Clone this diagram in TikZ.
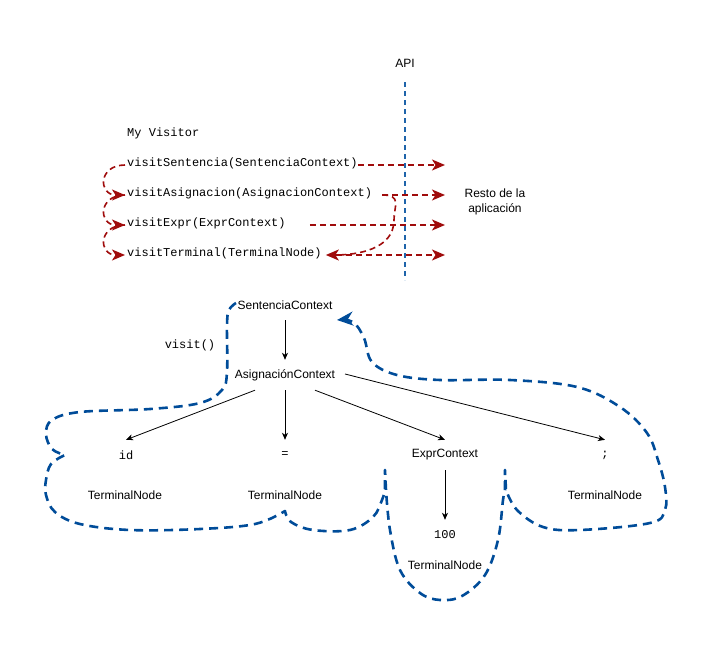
\documentclass[tikz,border=0pt]{standalone}
\usepackage{fontspec}
\setmainfont{Liberation Sans}
\newfontfamily\monof{Liberation Mono}
\usetikzlibrary{arrows.meta,calc}
\definecolor{redd}{RGB}{160,12,12}
\definecolor{blued}{RGB}{0,76,153}
\definecolor{apiblue}{RGB}{31,100,170}
\begin{document}
\begin{tikzpicture}[x=1pt,y=-1pt,
  lbl/.style={font=\fontsize{12}{14.4}\selectfont, inner sep=0pt},
  mono/.style={font=\monof\fontsize{12}{14.4}\selectfont, inner sep=0pt},
  tnode/.style={lbl, minimum height=30pt},
  tmono/.style={mono, minimum height=30pt},
  redarrow/.style={draw=redd, line width=1.6pt, dash pattern=on 6pt off 4pt,
    -{Stealth[length=13pt,width=11pt,inset=3.5pt]}},
  tree/.style={draw=black, line width=0.8pt, -{Stealth[length=7pt,width=6pt,inset=2pt]}},
  loop/.style={draw=blued, line width=2.6pt, dash pattern=on 9pt off 6pt, line join=round},
  apiline/.style={draw=apiblue, line width=1.8pt, dash pattern=on 5pt off 4pt},
]
\useasboundingbox (0,0) rectangle (721,651);

% API
\node[lbl] (api) at (405,63) {API};
\coordinate (apitop) at (405,82);
\coordinate (apibot) at (405,280);
\draw[apiline] (apitop) -- (apibot);

% Visitor methods
\node[mono, anchor=west] (mv) at (127,133) {My Visitor};
\node[mono, anchor=west] (vs) at (127,163) {visitSentencia(SentenciaContext)};
\node[mono, anchor=west] (va) at (127,193) {visitAsignacion(AsignacionContext)};
\node[mono, anchor=west] (ve) at (127,223) {visitExpr(ExprContext)};
\node[mono, anchor=west] (vt) at (127,253) {visitTerminal(TerminalNode)};
\node[lbl, align=center] (resto) at (495,202) {Resto de la\\aplicación};

\coordinate (r1) at (445,165);
\coordinate (r2) at (445,195);
\coordinate (r3) at (445,225);
\coordinate (r4) at (445,255);

\draw[redarrow] (vs.east |- r1) -- (r1);
\draw[redarrow] ($(va.east |- r2)+(10,0)$) -- (r2);
\draw[redarrow] ($(ve.east |- r3)+(24,0)$) -- (r3);
\draw[redarrow] ($(vt.east |- r4)+(14,0)$) -- (r4);

% left recursion curves
\draw[redarrow] ($(vs.west |- r1)+(-2,0)$) .. controls +(-27,0) and +(-27,0) .. ($(va.west |- r2)+(-2,0)$);
\draw[redarrow] ($(va.west |- r2)+(-2,0)$) .. controls +(-27,0) and +(-27,0) .. ($(ve.west |- r3)+(-2,0)$);
\draw[redarrow] ($(ve.west |- r3)+(-2,0)$) .. controls +(-27,0) and +(-27,0) .. ($(vt.west |- r4)+(-2,0)$);

% asignacion -> terminal curve
\draw[redarrow] ($(va.east |- r2)+(10,0)$) .. controls +(20,0) and +(0,-14) .. (394,220)
  .. controls +(0,30) and +(30,0) .. ($(vt.east |- r4)+(4,0)$);

% Parse tree
\node[tnode] (sc) at (285,305) {SentenciaContext};
\node[mono] (visit) at (190,345) {visit()};
\node[tnode] (asig) at (285,375) {AsignaciónContext};
\node[tmono] (id) at (126,455) {id};
\node[tmono] (eq) at (285,455) {=};
\node[tnode] (expr) at (445,455) {ExprContext};
\node[tmono] (semi) at (605,455) {;};
\node[lbl] (tn1) at (125,495) {TerminalNode};
\node[lbl] (tn2) at (285,495) {TerminalNode};
\node[lbl] (tn4) at (605,495) {TerminalNode};
\node[tmono] (hundred) at (445,535) {100};
\node[lbl] (tn3) at (445,565) {TerminalNode};

\draw[tree] (sc.south) -- (asig.north);
\draw[tree] ([xshift=-30pt]asig.south) -- (id.north);
\draw[tree] (asig.south) -- (eq.north);
\draw[tree] ([xshift=30pt]asig.south) -- (expr.north);
\draw[tree] ([xshift=60pt,yshift=1pt]asig.center) -- (semi.north);
\draw[tree] (expr.south) -- (hundred.north);

% traversal loop
\draw[loop, -{Stealth[length=16pt,width=14pt,inset=5pt]}]
  plot[smooth, tension=0.6] coordinates {(236,303) (229,310) (227,325) (227,372) (222,390) (200,403) (150,409) (80,412) (52,420) (46,434) (52,449) (65,455)}
  -- plot[smooth, tension=0.6] coordinates {(65,455) (51,464) (46,480) (46,495) (55,512) (80,524) (130,530) (200,529) (255,524) (285,511)}
  -- plot[smooth, tension=0.6] coordinates {(285,511) (291,522) (313,530) (350,530) (373,517) (382,500) (385,490)}
  -- (385,470) -- (386,490)
  -- plot[smooth, tension=0.6] coordinates {(386,490) (390,530) (400,570) (420,593) (440,600) (462,596) (485,575) (498,540) (503,500) (505,490)}
  -- (505,470) -- (506,490)
  -- plot[smooth, tension=0.6] coordinates {(506,490) (517,510) (543,527) (580,530) (650,523) (665,510) (665,487) (658,460) (647,433) (620,407) (577,387) (510,380) (440,380) (397,375) (372,362) (364,338) (353,322) (337,320)};

\end{tikzpicture}
\end{document}
